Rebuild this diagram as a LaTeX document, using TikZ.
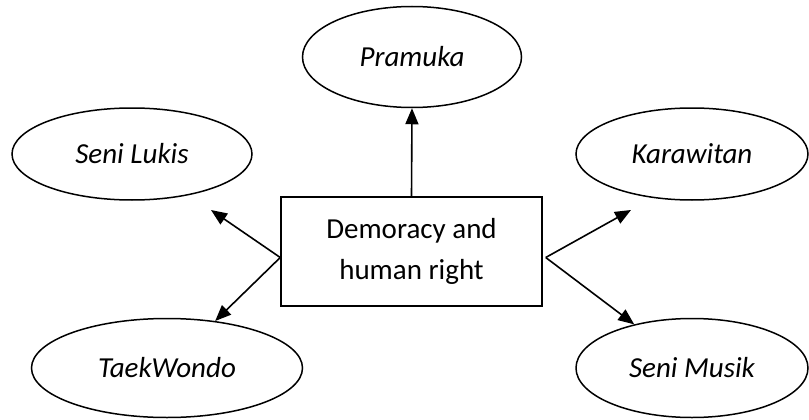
\documentclass[tikz,border=0pt]{standalone}
\usepackage{fontspec}
\setmainfont{Carlito}
\usetikzlibrary{shapes.geometric,arrows.meta}
\begin{document}
\begin{tikzpicture}[x=1pt,y=-1pt,
  oval/.style={ellipse,draw,line width=1.5pt,inner sep=0pt,font=\fontsize{29}{34}\selectfont\itshape},
  mainbox/.style={draw,line width=1.5pt,inner sep=0pt,align=center,font=\fontsize{29}{41}\selectfont},
  arr/.style={line width=1.6pt,-{Triangle[length=16pt,width=13pt]}}]
\useasboundingbox (0,0) rectangle (809,420);
\node[oval,minimum width=219pt,minimum height=101pt] (pramuka) at (412,57) {Pramuka};
\node[oval,minimum width=240pt,minimum height=92pt] (lukis) at (132,154) {Seni Lukis};
\node[oval,minimum width=232pt,minimum height=92pt] (karawitan) at (692,154) {Karawitan};
\node[oval,minimum width=271pt,minimum height=99pt] (taek) at (167,368) {TaekWondo};
\node[oval,minimum width=232pt,minimum height=99pt] (musik) at (692,368) {Seni Musik};
\node[mainbox,minimum width=261pt,minimum height=109pt] (box) at (411.5,251.5) {Demoracy and\\human right};
\coordinate (lapex) at ([yshift=-6pt]box.west);
\coordinate (rapex) at ([xshift=3pt,yshift=-6pt]box.east);
\coordinate (tiplukis) at (211,210);
\coordinate (tipkara) at (631,210);
\draw[arr] (box.north) -- (pramuka.south);
\draw[arr] (lapex) -- (tiplukis);
\draw[arr] (lapex) -- (taek);
\draw[arr] (rapex) -- (tipkara);
\draw[arr] (rapex) -- (musik);
\end{tikzpicture}
\end{document}
